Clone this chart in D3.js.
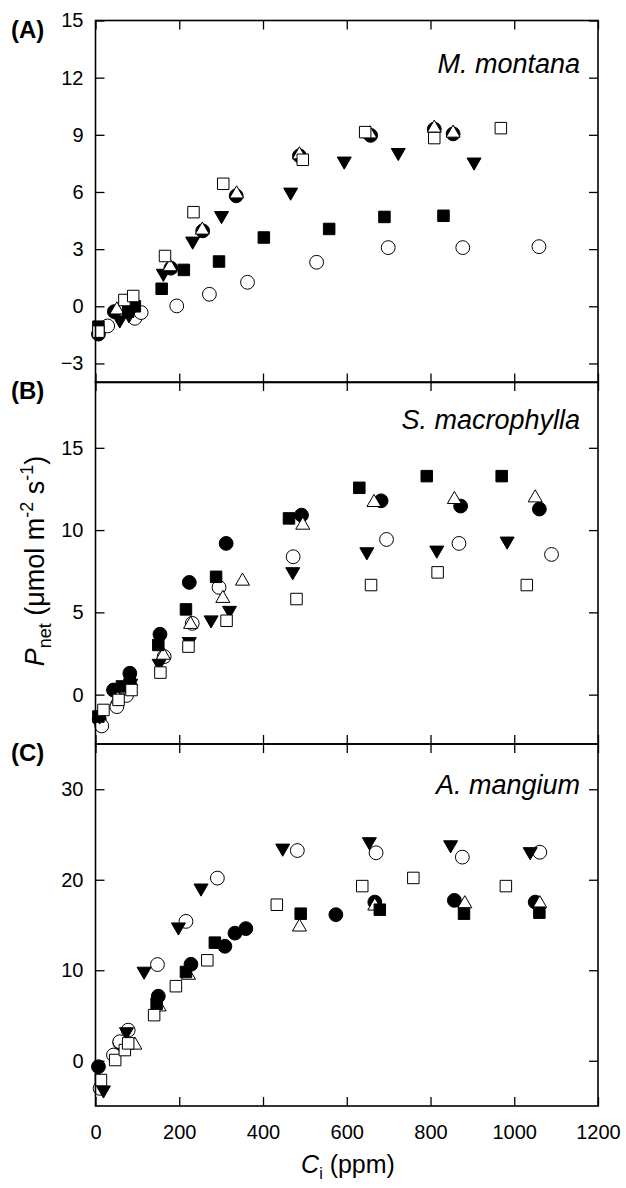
<!DOCTYPE html>
<html>
<head>
<meta charset="utf-8">
<script src="https://cdn.jsdelivr.net/npm/d3@7.9.0/dist/d3.min.js"></script>
<style>
  body { margin: 0; background: #fff; }
  svg { display: block; font-family: Arial, "Liberation Sans", sans-serif; }
</style>
</head>
<body>
<svg id="chart" width="626" height="1188"></svg>
<script>
// ---- x axis (shared) ----
const ciTicks = [0, 200, 400, 600, 800, 1000, 1200];

// ---- (A) M. montana ----
const mmFilledCircle = [[7,-1.46],[45,-0.28],[180,2.0],[256,3.96],[336,5.8],[487,7.9],[657,8.97],[809,9.3],[854,9.05]];
const mmOpenCircle = [[29,-1.03],[94,-0.63],[109,-0.33],[194,0.02],[272,0.63],[363,1.26],[528,2.31],[699,3.08],[877,3.08],[1059,3.13]];
const mmFilledTri = [[58,-0.72],[80,-0.45],[162,1.73],[232,3.42],[301,4.76],[466,5.99],[594,7.62],[723,8.07],[904,7.57]];
const mmOpenTri = [[51,-0.19],[178,2.08],[255,4.0],[337,5.9],[487,7.95],[655,9.05],[809,9.35],[854,9.09]];
const mmFilledSquare = [[7,-1.07],[78,-0.28],[94,0.0],[158,0.92],[211,1.91],[295,2.35],[402,3.61],[558,4.06],[690,4.69],[831,4.75]];
const mmOpenSquare = [[7,-1.33],[69,0.33],[90,0.54],[166,2.64],[234,4.94],[305,6.43],[495,7.69],[644,9.14],[809,8.83],[968,9.35]];
const mmTicks = [-3, 0, 3, 6, 9, 12, 15];

// ---- (B) S. macrophylla ----
const smFilledCircle = [[9,-1.5],[43,0.28],[82,1.3],[154,3.67],[224,6.82],[312,9.19],[492,10.91],[682,11.78],[872,11.46],[1060,11.28]];
const smOpenCircle = [[15,-1.9],[51,-0.73],[74,-0.05],[164,2.31],[231,4.33],[295,6.52],[472,8.38],[695,9.43],[868,9.19],[1089,8.52]];
const smFilledTri = [[10,-1.3],[54,-0.2],[84,0.69],[152,1.9],[224,3.22],[276,4.54],[320,5.12],[471,7.47],[648,8.68],[815,8.78],[983,9.33]];
const smOpenTri = [[53,-0.25],[84,0.8],[162,2.4],[227,4.27],[304,5.85],[351,6.9],[495,10.3],[665,11.68],[857,11.86],[1050,11.96]];
const smFilledSquare = [[7,-1.33],[63,0.5],[82,0.95],[150,3.02],[216,5.18],[288,7.16],[462,10.71],[630,12.57],[791,13.28],[970,13.28]];
const smOpenSquare = [[19,-0.93],[55,-0.32],[86,0.28],[155,1.34],[222,2.92],[313,4.49],[480,5.81],[658,6.66],[817,7.43],[1030,6.66]];
const smTicks = [0, 5, 10, 15];

// ---- (C) A. mangium ----
const amFilledCircle = [[7,-0.66],[58,2.0],[150,7.13],[228,10.66],[309,12.65],[333,14.1],[359,14.6],[574,16.14],[667,17.53],[857,17.72],[1050,17.53]];
const amOpenCircle = [[11,-3.05],[43,0.63],[58,2.1],[78,3.38],[148,10.63],[216,15.4],[291,20.18],[482,23.23],[670,22.98],[876,22.5],[1061,23.04]];
const amFilledTri = [[19,-3.23],[74,3.2],[116,9.89],[198,14.78],[252,19.08],[447,23.49],[654,24.2],[848,23.86],[1038,23.1]];
const amOpenTri = [[94,1.73],[152,5.95],[222,9.45],[487,14.78],[667,17.1],[882,17.35],[1061,17.35]];
const amFilledSquare = [[146,6.3],[216,9.81],[285,13.05],[490,16.25],[679,16.69],[880,16.25],[1060,16.36]];
const amOpenSquare = [[13,-2.13],[47,0.08],[70,1.18],[78,1.92],[140,5.04],[192,8.24],[267,11.1],[433,17.24],[637,19.3],[759,20.2],[980,19.3]];
const amTicks = [0, 10, 20, 30];

// ---- panel setup ----
const panels = [
  { label: '(A)', species: 'M. montana', domain: [-4, 15], ticks: mmTicks,
    sets: [mmFilledCircle, mmOpenCircle, mmFilledTri, mmOpenTri, mmFilledSquare, mmOpenSquare] },
  { label: '(B)', species: 'S. macrophylla', domain: [-3, 19], ticks: smTicks,
    sets: [smFilledCircle, smOpenCircle, smFilledTri, smOpenTri, smFilledSquare, smOpenSquare] },
  { label: '(C)', species: 'A. mangium', domain: [-5, 35], ticks: amTicks,
    sets: [amFilledCircle, amOpenCircle, amFilledTri, amOpenTri, amFilledSquare, amOpenSquare] }
];

// marker style per series, same order as sets
const markers = [
  { type: d3.symbolCircle, size: 150, fill: '#000', rot: 0 },
  { type: d3.symbolCircle, size: 150, fill: '#fff', rot: 0 },
  { type: d3.symbolTriangle, size: 85, fill: '#000', rot: 180 },
  { type: d3.symbolTriangle, size: 85, fill: '#fff', rot: 0 },
  { type: d3.symbolSquare, size: 132, fill: '#000', rot: 0 },
  { type: d3.symbolSquare, size: 132, fill: '#fff', rot: 0 }
];

const left = 95.5, right = 598;
const panelTop = [20.5, 382, 744], panelH = 362;
const x = d3.scaleLinear().domain([0, 1200]).range([left, right]);
const svg = d3.select('#chart');

function styleAxis(sel) {
  sel.select('.domain').remove();
  sel.selectAll('.tick line').attr('stroke', '#000').attr('stroke-width', 1.3);
  sel.selectAll('.tick text').attr('fill', '#000').style('font-size', '20px');
}

panels.forEach((p, i) => {
  const top = panelTop[i], bottom = top + panelH;
  const y = d3.scaleLinear().domain(p.domain).range([bottom, top]);
  const g = svg.append('g');

  // ticks on all four sides, pointing in
  g.append('g').attr('transform', `translate(${left},0)`)
    .call(d3.axisLeft(y).tickValues(p.ticks).tickSizeInner(-9).tickSizeOuter(0).tickPadding(12))
    .call(styleAxis);
  g.append('g').attr('transform', `translate(${right},0)`)
    .call(d3.axisRight(y).tickValues(p.ticks).tickSizeInner(-9).tickSizeOuter(0).tickFormat(''))
    .call(styleAxis);
  g.append('g').attr('transform', `translate(0,${top})`)
    .call(d3.axisTop(x).tickValues(ciTicks).tickSizeInner(-9).tickSizeOuter(0).tickFormat(''))
    .call(styleAxis);
  const bx = d3.axisBottom(x).tickValues(ciTicks).tickSizeInner(-9).tickSizeOuter(0).tickPadding(19)
    .tickFormat(i < 2 ? '' : d3.format('d'));
  g.append('g').attr('transform', `translate(0,${bottom})`)
    .call(bx)
    .call(styleAxis);

  // points
  p.sets.forEach((data, k) => {
    const m = markers[k];
    const sym = d3.symbol().type(m.type).size(m.size);
    g.append('g').selectAll('path')
      .data(data)
      .join('path')
      .attr('d', sym)
      .attr('transform', d => `translate(${x(d[0])},${y(d[1])}) rotate(${m.rot})`)
      .attr('fill', m.fill)
      .attr('stroke', '#000')
      .attr('stroke-width', 1);
  });

  // frame
  g.append('rect')
    .attr('x', left).attr('y', top)
    .attr('width', right - left).attr('height', panelH)
    .attr('fill', 'none').attr('stroke', '#000').attr('stroke-width', 1.6);

  // panel letter + species name
  g.append('text')
    .attr('x', 11).attr('y', top + 17)
    .style('font-size', '24px').style('font-weight', 'bold')
    .text(p.label);
  g.append('text')
    .attr('x', 580).attr('y', top + [52, 46.5, 49.5][i])
    .attr('text-anchor', 'end')
    .style('font-size', '27px').style('font-style', 'italic')
    .text(p.species);
});

// y axis title
const yt = svg.append('text')
  .attr('transform', 'translate(44,561) rotate(-90)')
  .attr('text-anchor', 'middle')
  .style('font-size', '27px');
yt.append('tspan').style('font-style', 'italic').text('P');
yt.append('tspan').attr('dy', 7).style('font-size', '18px').text('net');
yt.append('tspan').attr('dy', -7).text(' (\u03bcmol m');
yt.append('tspan').attr('dy', -11).style('font-size', '18px').text('-2');
yt.append('tspan').attr('dy', 11).text(' s');
yt.append('tspan').attr('dy', -11).style('font-size', '18px').text('-1');
yt.append('tspan').attr('dy', 11).text(')');

// x axis title
const xt = svg.append('text')
  .attr('x', 348).attr('y', 1173)
  .attr('text-anchor', 'middle')
  .style('font-size', '25px');
xt.append('tspan').style('font-style', 'italic').text('C');
xt.append('tspan').attr('dy', 6).style('font-size', '16px').text('i');
xt.append('tspan').attr('dy', -6).text(' (ppm)');
</script>
</body>
</html>
